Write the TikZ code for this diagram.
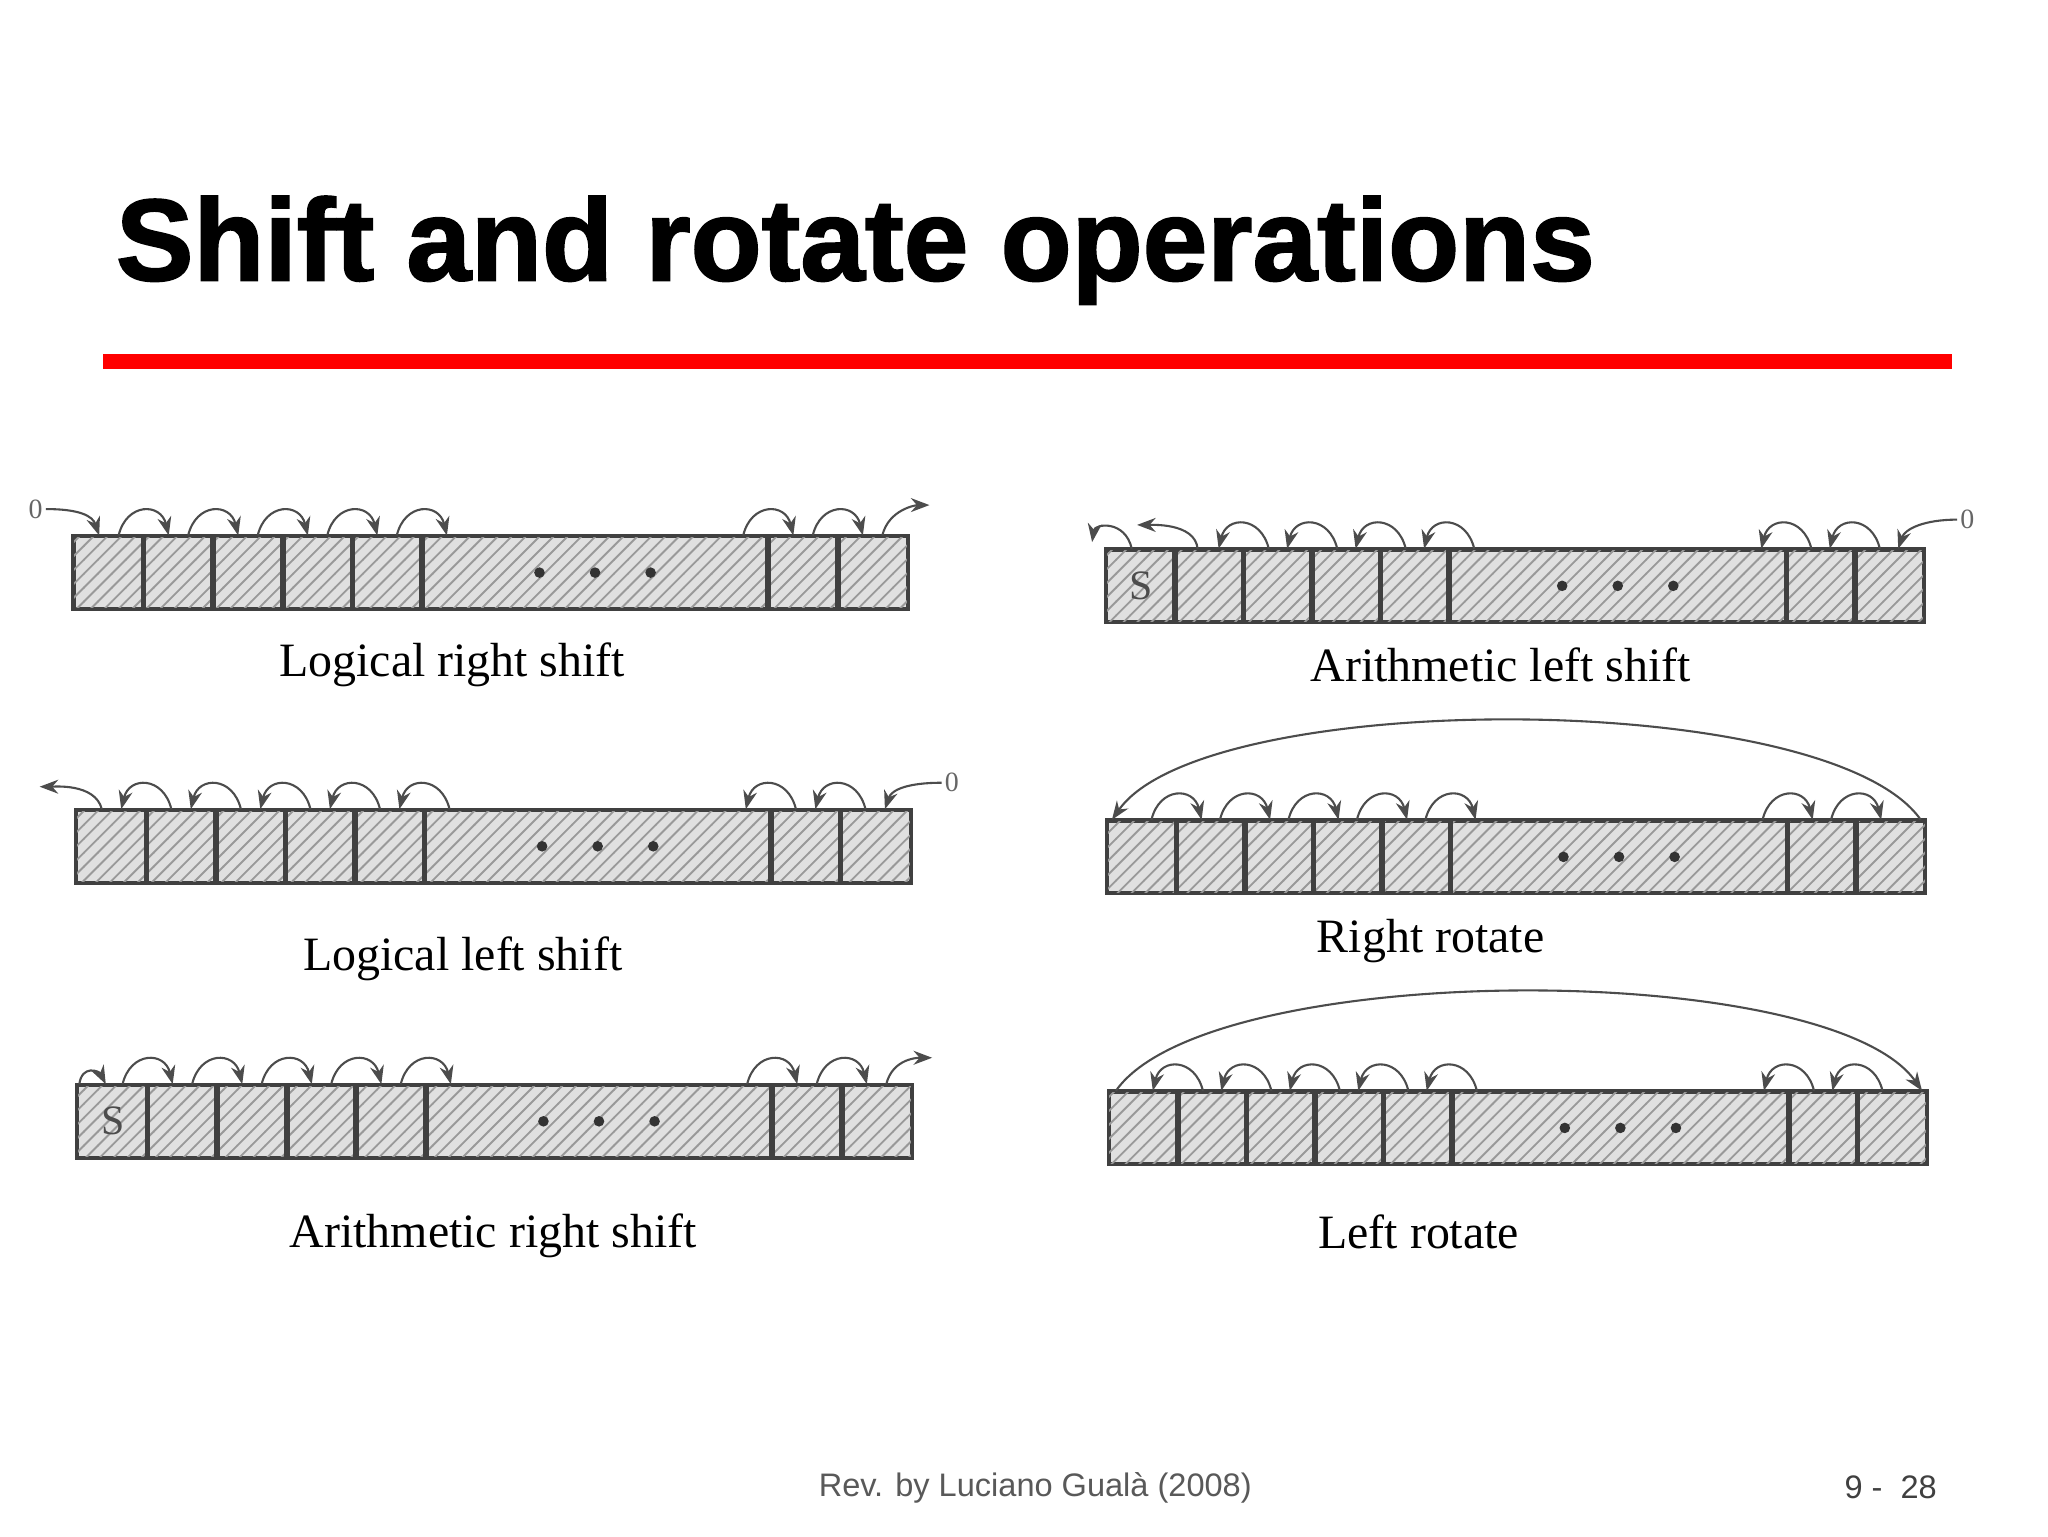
\documentclass[tikz,border=0pt]{standalone}
\usepackage{fontspec}
\setmainfont{Liberation Serif}
\newfontfamily\hsans{Liberation Sans}
\newfontfamily\titlefont[BoldFeatures={FakeBold=1.6}]{Liberation Sans}
\usetikzlibrary{patterns,arrows.meta}
\tikzset{
  cell/.style={draw=black!75,line width=0.6pt,fill=black!12,inner sep=0pt,minimum height=0.54cm,anchor=north west},
  hatch/.style={pattern=north east lines,pattern color=black!40},
  arc/.style={draw=black!70,line width=0.45pt,-{Stealth[length=4pt,width=3pt]}},
  lab/.style={font=\fontsize{10.3pt}{12pt}\selectfont},
  zero/.style={font=\fontsize{6pt}{6pt}\selectfont\color{black!60},inner sep=0.5pt},
  dotm/.style={circle,fill=black!80,inner sep=0pt,minimum size=0.08cm}
}
\newcommand{\mkreg}[5]{%
  \begin{scope}[shift={(#2,-#3)}]
  \pgfmathsetmacro{\cw}{#4}\pgfmathsetmacro{\bw}{#5}
  \foreach \i in {1,...,5}{
    \node[cell,minimum width=\cw*0.01cm] (#1-\i) at ({(\i-1)*\cw},0) {};
    \fill[hatch] (#1-\i.south west) rectangle (#1-\i.north east);
  }
  \node[cell,minimum width=\bw*0.01cm] (#1-6) at ({5*\cw},0) {};
  \fill[hatch] (#1-6.south west) rectangle (#1-6.north east);
  \foreach \i in {7,8}{
    \node[cell,minimum width=\cw*0.01cm] (#1-\i) at ({5*\cw+\bw+(\i-7)*\cw},0) {};
    \fill[hatch] (#1-\i.south west) rectangle (#1-\i.north east);
  }
  \foreach \i in {1,...,8}{\draw[black!75,line width=0.6pt] (#1-\i.south west) rectangle (#1-\i.north east);}
  \node[dotm] (#1-d1) at ([xshift=-0.42cm]#1-6.center) {};
  \node[dotm] (#1-d2) at (#1-6.center) {};
  \node[dotm] (#1-d3) at ([xshift=0.42cm]#1-6.center) {};
  \end{scope}}
\newcommand{\rarcs}[1]{%
  \foreach \i [evaluate=\i as \j using int(\i+1)] in {1,...,7}{
    \draw[arc] ([xshift=-0.2cm]#1-\i.north east) .. controls +(6,25) and +(-6,25) .. ([xshift=0.2cm]#1-\j.north west);}}
\newcommand{\larcs}[1]{%
  \foreach \i [evaluate=\i as \j using int(\i+1)] in {1,...,7}{
    \draw[arc] ([xshift=0.2cm]#1-\j.north west) .. controls +(-6,25) and +(6,25) .. ([xshift=-0.2cm]#1-\i.north east);}}
\begin{document}
\begin{tikzpicture}[x=0.01cm,y=0.01cm]
\useasboundingbox (0,0) rectangle (1549,-1162);
\fill[white] (0,0) rectangle (1549,-1162);
\node[anchor=base west,inner sep=0pt,font=\titlefont\bfseries\fontsize{25pt}{28pt}\selectfont] (title) at (87,-212) {Shift and rotate operations};
\fill[red] (78,-268) rectangle (1476,-279);
% R1 logical right shift
\mkreg{a}{55}{405}{52.6}{262}
\rarcs{a}
\node[zero] (a0) at (27,-385) {0};
\draw[arc] (a0.east) .. controls +(25,0) and +(-5,15) .. ([xshift=0.2cm]a-1.north west);
\coordinate (aout) at (703,-382);
\draw[arc] ([xshift=-0.2cm]a-8.north east) .. controls +(5,20) and +(-10,0) .. (aout);
\node[lab] (la) at (342,-503) {Logical right shift};
% R2 arithmetic left shift
\mkreg{b}{836}{415}{51.8}{255}
\node[font=\fontsize{9pt}{9pt}\selectfont\color{black!70}] (bs) at (b-1.center) {S};
\foreach \i [evaluate=\i as \j using int(\i+1)] in {2,...,7}{
  \draw[arc] ([xshift=0.2cm]b-\j.north west) .. controls +(-6,25) and +(6,25) .. ([xshift=-0.2cm]b-\i.north east);}
\coordinate (bout) at (860,-397);
\draw[arc] ([xshift=0.18cm]b-2.north west) .. controls +(-2,20) and +(10,0) .. (bout);
\coordinate (bs2) at (826,-410);
\draw[arc] ([xshift=0.2cm]b-1.north west) .. controls +(-5,22) and +(2,14) .. (bs2);
\node[zero] (b0) at (1488,-393) {0};
\draw[arc] (b0.west) .. controls +(-25,0) and +(5,15) .. ([xshift=-0.2cm]b-8.north east);
\node[lab] (lb) at (1135,-503) {Arithmetic left shift};
% R3 logical left shift
\mkreg{c}{57}{612}{52.6}{262}
\larcs{c}
\node[zero] (c0) at (720,-592) {0};
\draw[arc] (c0.west) .. controls +(-25,0) and +(5,15) .. ([xshift=-0.2cm]c-8.north east);
\coordinate (cout) at (30,-595);
\draw[arc] ([xshift=0.2cm]c-1.north west) .. controls +(-5,20) and +(10,0) .. (cout);
\node[lab] (lc) at (350,-725) {Logical left shift};
% R4 right rotate
\mkreg{d}{837}{620}{51.8}{255}
\rarcs{d}
\draw[arc] ([xshift=-0.04cm]d-8.north east) .. controls +(-70,100) and +(70,100) .. ([xshift=0.04cm]d-1.north west);
\node[lab] (ld) at (1082,-712) {Right rotate};
% R5 arithmetic right shift
\mkreg{e}{58}{820}{52.6}{262}
\node[font=\fontsize{9pt}{9pt}\selectfont\color{black!70}] (es) at (e-1.center) {S};
\rarcs{e}
\draw[arc] ([xshift=0.02cm]e-1.north west) .. controls +(2,15) and +(-5,10) .. ([xshift=0.22cm]e-1.north west);
\coordinate (eout) at (705,-800);
\draw[arc] ([xshift=-0.2cm]e-8.north east) .. controls +(5,20) and +(-10,0) .. (eout);
\node[lab] (le) at (373,-935) {Arithmetic right shift};
% R6 left rotate
\mkreg{f}{838}{825}{51.8}{255}
\larcs{f}
\draw[arc] ([xshift=0.06cm]f-1.north west) .. controls +(70,100) and +(-70,100) .. ([xshift=-0.04cm]f-8.north east);
\node[lab] (lf) at (1073,-932) {Left rotate};
% footer
\node[font=\hsans\fontsize{7pt}{8pt}\selectfont,text=black!65] (foot) at (783,-1125) {Rev. by Luciano Gualà (2008)};
\node[font=\hsans\fontsize{7pt}{8pt}\selectfont,text=black!75] (pg) at (1430,-1125) {9 -\ \ 28};
\end{tikzpicture}
\end{document}
